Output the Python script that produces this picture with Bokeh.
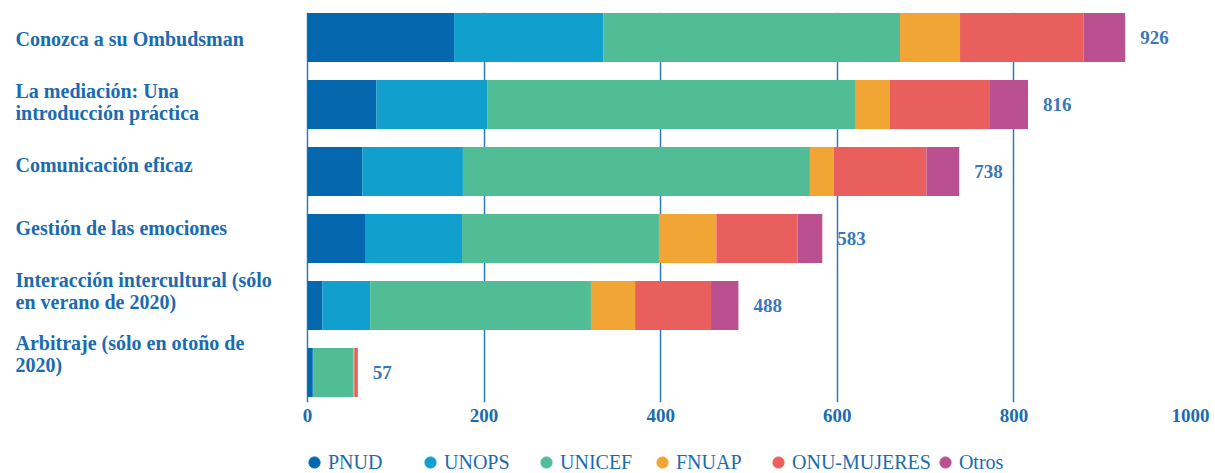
from bokeh.plotting import figure
from bokeh.layouts import column
from bokeh.models import ColumnDataSource, Range1d, LabelSet, Legend, LegendItem, FixedTicker
from bokeh.embed import file_html
from bokeh.resources import INLINE

courses = [
    "Conozca a su Ombudsman",
    "La mediación: Una\nintroducción práctica",
    "Comunicación eficaz",
    "Gestión de las emociones",
    "Interacción intercultural (sólo\nen verano de 2020)",
    "Arbitraje (sólo en otoño de\n2020)",
]
agencies = ["PNUD", "UNOPS", "UNICEF", "FNUAP", "ONU-MUJERES", "Otros"]
colors = ["#0568ae", "#119fce", "#50bd96", "#f1a534", "#e95f5e", "#bb5091"]

pnud = [166, 78, 62, 66, 17, 6]
unops = [169, 126, 114, 109, 54, 1]
unicef = [336, 416, 393, 223, 250, 45]
fnuap = [68, 39, 27, 65, 50, 1]
onu_mujeres = [140, 113, 105, 92, 86, 4]
otros = [47, 44, 37, 28, 31, 0]

x_ticks = [0, 200, 400, 600, 800, 1000]

series = [pnud, unops, unicef, fnuap, onu_mujeres, otros]
totals = [sum(v) for v in zip(*series)]
n = len(courses)
ypos = list(range(n - 1, -1, -1))

# layout constants (pixels)
W = 1212
GUTTER_PX = 307      # label gutter left of the value 0
PLOT_PX = 883        # pixels for 0..1000
FRAME_H = 390        # plot frame height
LABEL_TOP_PX = 26    # first category label centre, from frame top
LABEL_PITCH_PX = 63  # distance between category label centres

x_start = -x_ticks[-1] * GUTTER_PX / PLOT_PX
label_sy = [FRAME_H - LABEL_TOP_PX - LABEL_PITCH_PX * i for i in range(n)]

data = {"y": ypos, "label": courses, "label_sy": label_sy, "total": totals,
        "total_txt": [str(t) for t in totals]}
for a, vals in zip(agencies, series):
    data[a] = vals
src = ColumnDataSource(data)

TEXT_BLUE = "#1a6bb0"
SERIF = "Liberation Serif"

p = figure(width=W, height=430,
           x_range=Range1d(x_start, x_ticks[-1]), y_range=Range1d(-0.448, 5.373),
           output_backend="svg", toolbar_location=None, y_axis_location=None,
           min_border_left=0, min_border_right=W - GUTTER_PX - PLOT_PX,
           min_border_top=12, min_border_bottom=28)
p.outline_line_color = None
p.background_fill_color = "white"
p.border_fill_color = "white"

p.hbar_stack(agencies, y="y", height=0.73, fill_color=colors,
             line_color=None, source=src)

p.xaxis.ticker = FixedTicker(ticks=x_ticks)
p.xaxis.axis_line_color = None
p.xaxis.major_tick_line_color = None
p.xaxis.minor_tick_line_color = None
p.xaxis.major_tick_out = 0
p.xaxis.major_label_standoff = 6
p.xaxis.major_label_text_font = SERIF
p.xaxis.major_label_text_font_style = "bold"
p.xaxis.major_label_text_font_size = "19px"
p.xaxis.major_label_text_color = TEXT_BLUE

p.xgrid.ticker = FixedTicker(ticks=x_ticks)
p.xgrid.grid_line_color = "#2b7bbf"
p.xgrid.grid_line_width = 1.5
p.ygrid.grid_line_color = None

cat_labels = LabelSet(x=15, y="label_sy", text="label", source=src,
                      x_units="screen", y_units="screen",
                      text_align="left", text_baseline="middle",
                      text_line_height=1.0,
                      text_font=SERIF, text_font_style="bold",
                      text_font_size="20px", text_color=TEXT_BLUE)
p.add_layout(cat_labels)

tot_labels = LabelSet(x="total", y="y", text="total_txt", source=src,
                      x_offset=15, text_align="left", text_baseline="middle",
                      text_font=SERIF, text_font_style="bold",
                      text_font_size="19px", text_color="#3976bb")
p.add_layout(tot_labels)

# legend figure
lf = figure(width=W, height=43, x_range=Range1d(0, 1), y_range=Range1d(0, 1),
            output_backend="svg", toolbar_location=None,
            x_axis_location=None, y_axis_location=None,
            min_border_left=0, min_border_right=0,
            min_border_top=0, min_border_bottom=0)
lf.outline_line_color = None
lf.grid.visible = False
lf.background_fill_color = "white"
lf.border_fill_color = "white"

items = []
for a, c in zip(agencies, colors):
    # a single point outside the visible range: only its legend swatch shows
    r = lf.scatter(x=[-1], y=[-1], marker="circle", size=10,
                   fill_color=c, line_color=c)
    items.append(LegendItem(label=a, renderers=[r]))

legend = Legend(items=items, orientation="horizontal", location=(300, -3),
                glyph_width=28, glyph_height=28, label_standoff=0,
                spacing=0, label_width=88, padding=0, margin=0,
                border_line_color=None, background_fill_alpha=0,
                label_text_font=SERIF, label_text_font_size="20px",
                label_text_color=TEXT_BLUE)
lf.add_layout(legend)

layout = column(p, lf, spacing=0)
open("out.html", "w").write(file_html(layout, INLINE))
